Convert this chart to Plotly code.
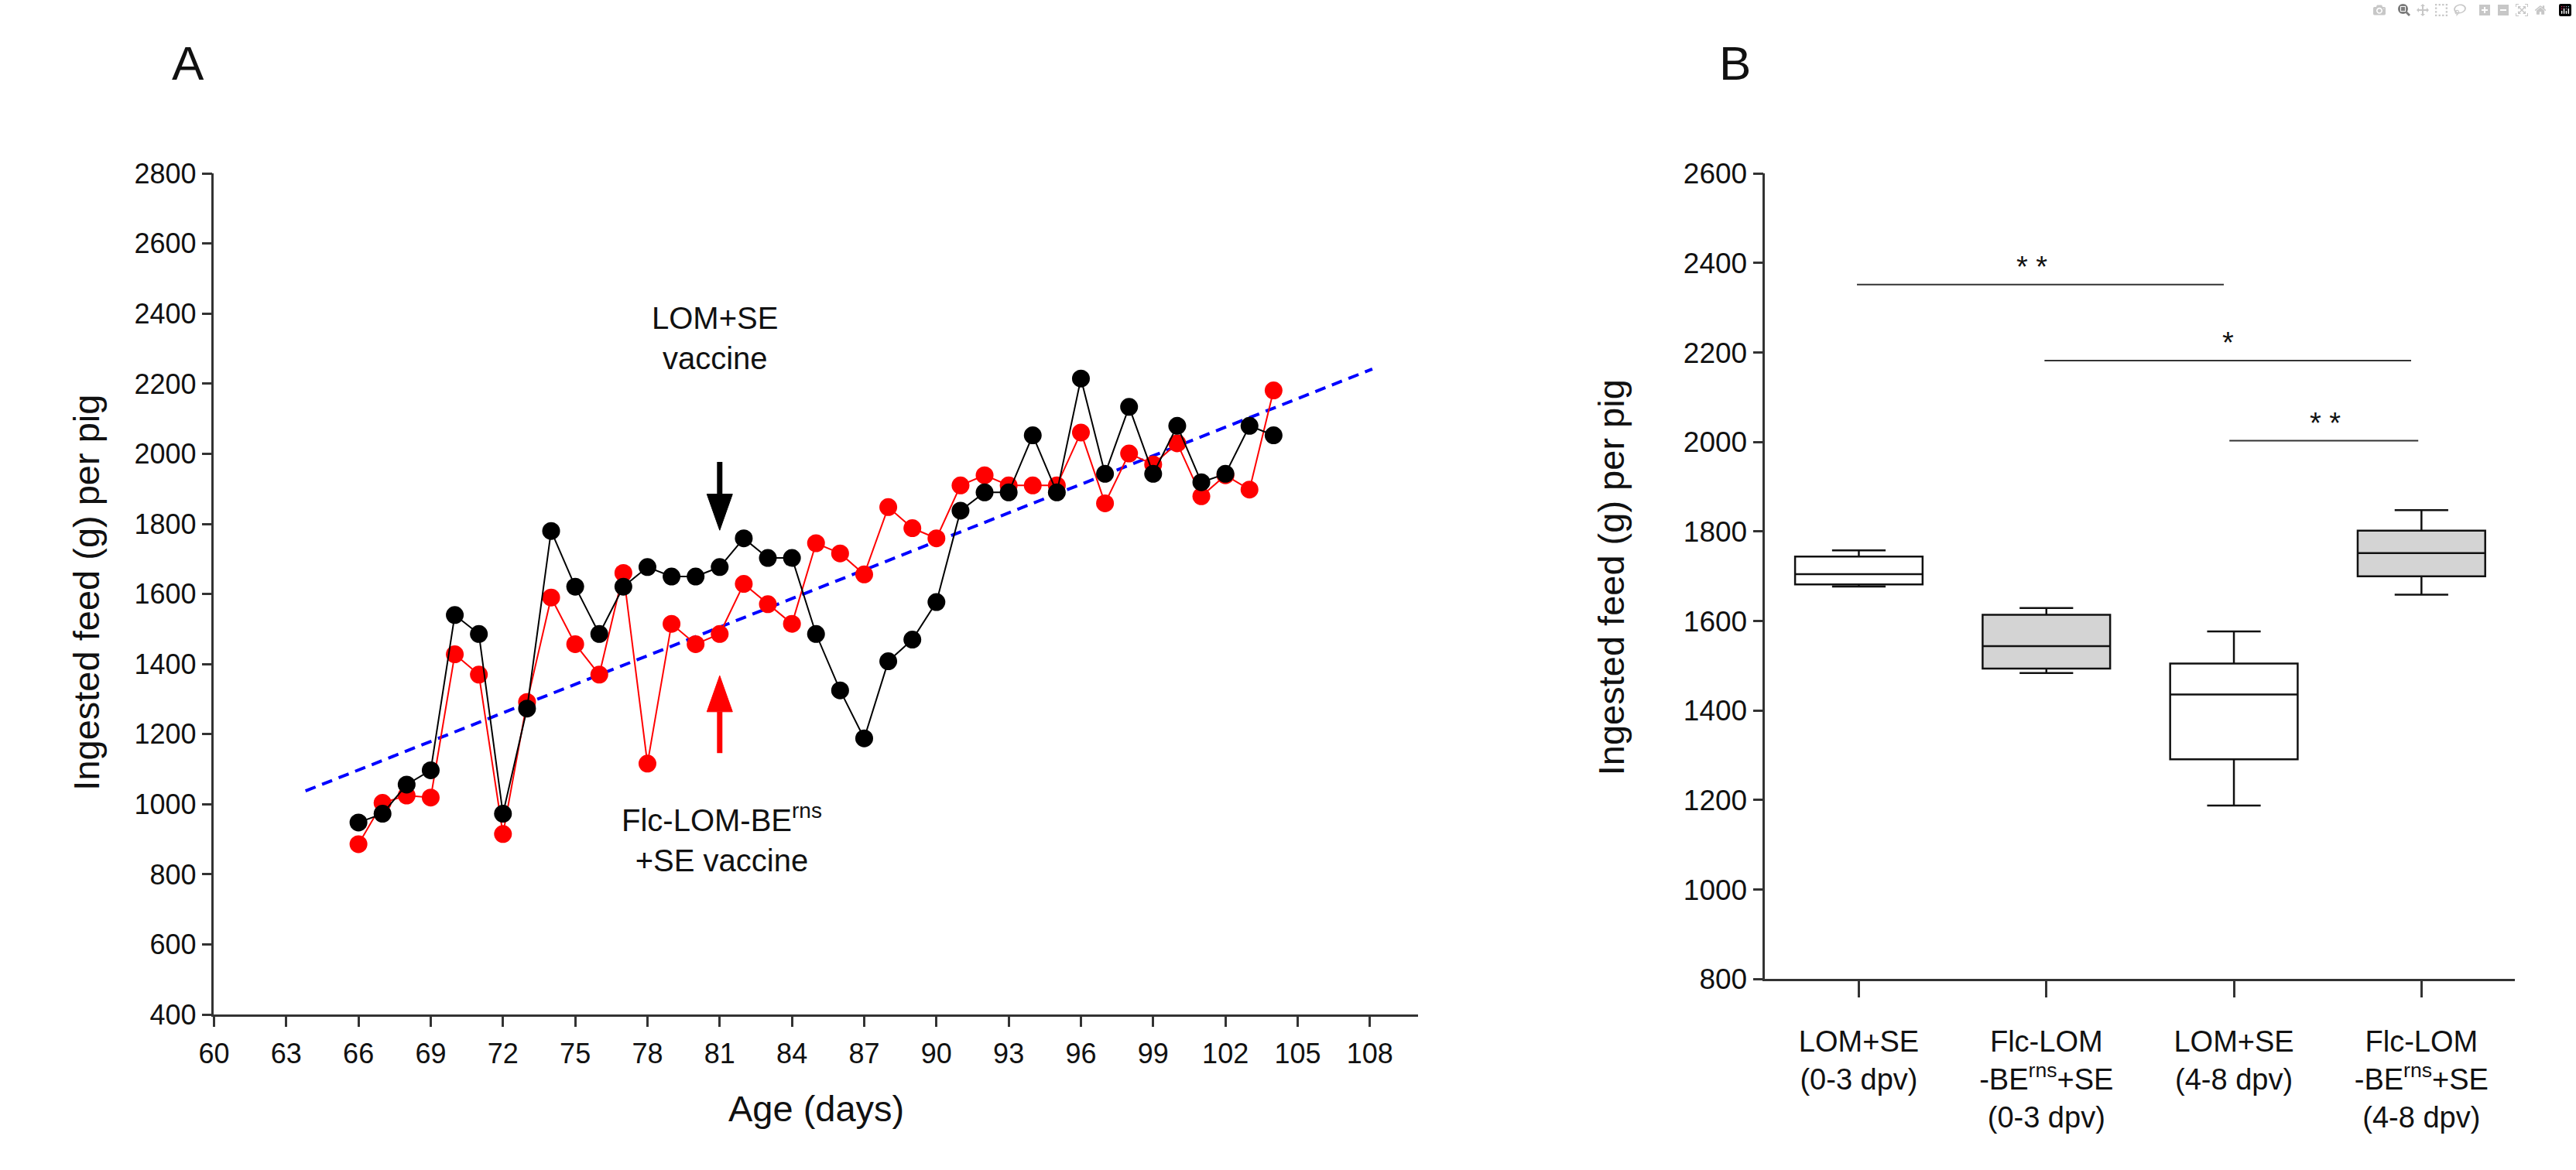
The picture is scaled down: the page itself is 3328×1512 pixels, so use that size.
import plotly.graph_objects as go

# ---------------- Panel A data ----------------
days = list(range(66, 105))
lom_se = [948, 973, 1056, 1097, 1540, 1486, 973, 1273, 1780, 1621,
          1486, 1621, 1677, 1650, 1650, 1677, 1759, 1703, 1703, 1486,
          1325, 1188, 1408, 1470, 1577, 1838, 1890, 1890, 2053, 1890,
          2215, 1943, 2134, 1943, 2080, 1919, 1943, 2080, 2053]
flc_lom = [886, 1004, 1025, 1019, 1428, 1370, 915, 1292, 1590, 1457,
           1370, 1660, 1116, 1515, 1457, 1486, 1629, 1571, 1515, 1745,
           1716, 1656, 1848, 1788, 1759, 1910, 1939, 1910, 1910, 1910,
           2061, 1859, 2001, 1970, 2030, 1879, 1939, 1898, 2181]
trend_x = [63.8, 108.1]
trend_y = [1038, 2242]
vaccine_day = 81
black_arrow = [1977, 1885, 1782]   # tail, head base, tip
red_arrow = [1146, 1264, 1367]     # tail, head base, tip
arrow_half_width = 0.53            # days
x_ticks_A = list(range(60, 109, 3))
y_ticks_A = list(range(400, 2801, 200))

# ---------------- Panel B data ----------------
groups = ["LOM+SE<br>(0-3 dpv)",
          "Flc-LOM<br>-BE<sup>rns</sup>+SE<br>(0-3 dpv)",
          "LOM+SE<br>(4-8 dpv)",
          "Flc-LOM<br>-BE<sup>rns</sup>+SE<br>(4-8 dpv)"]
b_low = [1677, 1484, 1188, 1659]
b_q1 = [1682, 1494, 1291, 1700]
b_med = [1705, 1544, 1436, 1752]
b_q3 = [1744, 1614, 1505, 1802]
b_high = [1758, 1629, 1577, 1848]
b_fill = ["#ffffff", "#d4d4d4", "#ffffff", "#d4d4d4"]
sig_x0 = [-0.01, 0.99, 1.976]
sig_x1 = [1.946, 2.945, 2.983]
sig_y = [2352, 2182, 2003]
sig_text = ["* *", "*", "* *"]
sig_text_x = [0.922, 1.968, 2.486]
y_ticks_B = list(range(800, 2601, 200))

W, H = 3328, 1512
FONT = "Liberation Sans, Arial, sans-serif"
AX = "#333333"

fig = go.Figure()

fig.add_trace(go.Scatter(x=trend_x, y=trend_y, mode="lines",
                         line=dict(color="#0000ff", width=4, dash="14px,9px"),
                         xaxis="x", yaxis="y", showlegend=False))
fig.add_trace(go.Scatter(x=days, y=flc_lom, mode="lines+markers",
                         line=dict(color="#ff0000", width=2),
                         marker=dict(color="#ff0000", size=23, symbol="circle"),
                         xaxis="x", yaxis="y", showlegend=False))
fig.add_trace(go.Scatter(x=days, y=lom_se, mode="lines+markers",
                         line=dict(color="#000000", width=2),
                         marker=dict(color="#000000", size=23, symbol="circle"),
                         xaxis="x", yaxis="y", showlegend=False))

for i in range(len(groups)):
    fig.add_trace(go.Box(x=[i], q1=[b_q1[i]], median=[b_med[i]], q3=[b_q3[i]],
                         lowerfence=[b_low[i]], upperfence=[b_high[i]],
                         fillcolor=b_fill[i], line=dict(color="#111111", width=2.5),
                         width=0.68, whiskerwidth=0.42, boxpoints=False,
                         xaxis="x2", yaxis="y2", showlegend=False))

shapes = []
# arrows in panel A
for vals, col in [(black_arrow, "#000000"), (red_arrow, "#ff0000")]:
    tail, base, tip = vals
    shapes.append(dict(type="line", xref="x", yref="y", x0=vaccine_day, x1=vaccine_day,
                       y0=tail, y1=base, line=dict(color=col, width=7)))
    shapes.append(dict(type="path", xref="x", yref="y",
                       path=f"M {vaccine_day - arrow_half_width},{base} L {vaccine_day + arrow_half_width},{base} L {vaccine_day},{tip} Z",
                       fillcolor=col, line=dict(color=col, width=1)))
# significance bars in panel B
for x0, x1, yv in zip(sig_x0, sig_x1, sig_y):
    shapes.append(dict(type="line", xref="x2", yref="y2", x0=x0, x1=x1, y0=yv, y1=yv,
                       line=dict(color=AX, width=2)))


def paper_text(text, px, py, size, angle=0):
    return dict(text=text, x=px / W, y=1 - py / H, xref="paper", yref="paper",
                xanchor="center", yanchor="middle", showarrow=False, textangle=angle,
                font=dict(size=size, family=FONT, color="#111"))


annotations = [
    paper_text("A", 224, 63, 62),
    paper_text("B", 2235, 63, 62),
    paper_text("Ingested feed (g) per pig", 92, 766, 47, -90),
    paper_text("Ingested feed (g) per pig", 2074, 747, 47, -90),
    paper_text("Age (days)", 1041, 1452, 47),
    dict(text="LOM+SE<br>vaccine", x=80.8, y=2330, xref="x", yref="y", showarrow=False,
         xanchor="center", yanchor="middle", font=dict(size=40, family=FONT, color="#111")),
    dict(text="Flc-LOM-BE<sup>rns</sup><br>+SE vaccine", x=81.1, y=904, xref="x", yref="y",
         xanchor="center", yanchor="middle", showarrow=False,
         font=dict(size=40, family=FONT, color="#111")),
]
for tx, yv, t in zip(sig_text_x, sig_y, sig_text):
    annotations.append(dict(text=t, x=tx, y=yv, xref="x2", yref="y2", showarrow=False,
                            xanchor="center", yanchor="bottom",
                            font=dict(size=38, family=FONT, color="#111")))

axis_common = dict(showgrid=False, zeroline=False, showline=True, linecolor=AX, linewidth=2.5,
                   ticks="outside", tickcolor=AX, tickwidth=2.5, mirror=False)

fig.update_layout(
    width=W, height=H, margin=dict(l=0, r=0, t=0, b=0),
    paper_bgcolor="white", plot_bgcolor="white",
    font=dict(family=FONT, color="#111"),
    boxmode="overlay",
    xaxis=dict(domain=[258 / W, 1823 / W], range=[60, 110], tickmode="array", tickvals=x_ticks_A,
               ticklen=13, tickfont=dict(size=36), ticklabelstandoff=4, anchor="y", **axis_common),
    yaxis=dict(domain=[1 - 1327 / H, 1 - 210 / H], range=[400, 2800], tickmode="array",
               tickvals=y_ticks_A, ticklen=13, tickfont=dict(size=36), anchor="x", **axis_common),
    xaxis2=dict(domain=[2274 / W, 3249 / W], range=[-0.5, 3.5], tickmode="array",
                tickvals=list(range(len(groups))), ticktext=groups, ticklen=21,
                tickfont=dict(size=38), ticklabelstandoff=24, anchor="y2", **axis_common),
    yaxis2=dict(domain=[1 - 1280 / H, 1 - 210 / H], range=[800, 2600], tickmode="array",
                tickvals=y_ticks_B, ticklen=13, tickfont=dict(size=37), anchor="x2", **axis_common),
    shapes=shapes, annotations=annotations,
)

fig.write_html("out.html", post_script="document.body.style.margin='0';")
